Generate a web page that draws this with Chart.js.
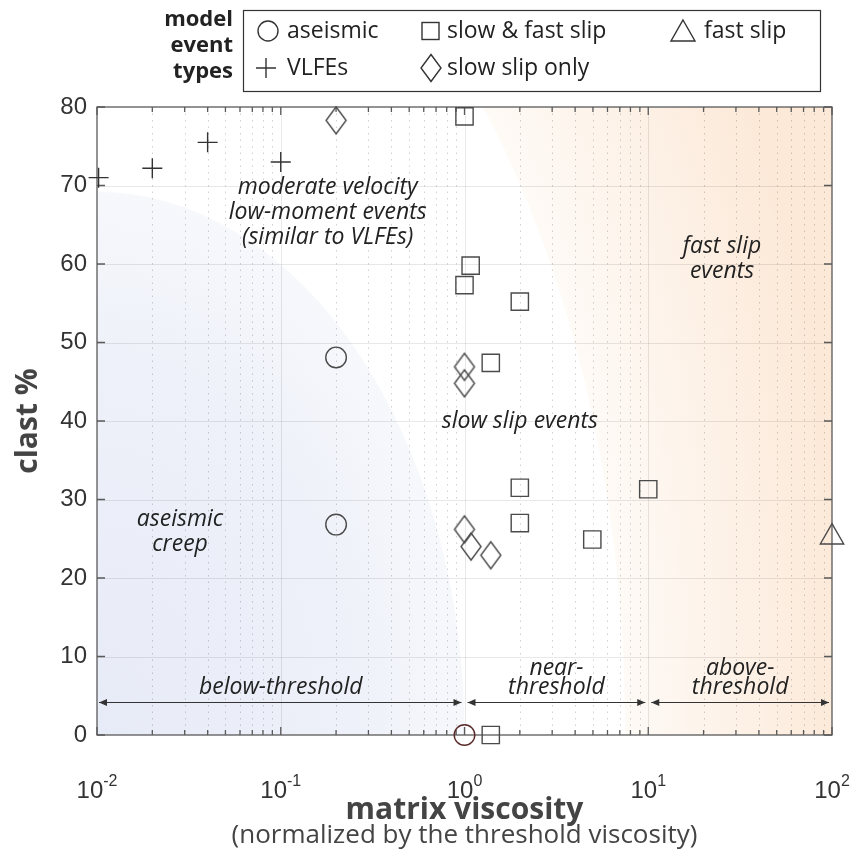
<!DOCTYPE html>
<html>
<head>
<meta charset="utf-8">
<script src="https://cdn.jsdelivr.net/npm/chart.js@4.4.0/dist/chart.umd.min.js"></script>
<style>
  html, body { margin: 0; padding: 0; background: #fff; }
  #wrap { position: relative; width: 862px; height: 850px; }
</style>
</head>
<body>
<div id="wrap"><canvas id="chart"></canvas></div>
<script>
// clast % vs. normalized matrix viscosity, one series per modelled event type
const aseismicX = [0.2, 0.2, 1.0];
const aseismicY = [48.1, 26.8, 0];

const slowFastX = [1.0, 1.08, 1.0, 2.0, 1.39, 2.0, 10, 2.0, 4.96, 1.39];
const slowFastY = [78.8, 59.8, 57.3, 55.2, 47.4, 31.5, 31.3, 27.0, 24.9, 0];

const fastSlipX = [100];
const fastSlipY = [25.2];

const vlfeX = [0.0102, 0.02, 0.04, 0.1];
const vlfeY = [71.0, 72.2, 75.5, 73.0];

const slowOnlyX = [0.2, 1.0, 1.0, 1.0, 1.085, 1.39];
const slowOnlyY = [78.3, 46.9, 44.8, 26.2, 24.0, 22.9];

const yTicks = [0, 10, 20, 30, 40, 50, 60, 70, 80];
const xDecades = [0.01, 0.1, 1, 10, 100];
const xExponents = ['-2', '-1', '0', '1', '2'];

// regime bands along the bottom
const bandEdges = [0.01, 1, 10, 100];
const bandLabels = [['below-threshold'], ['near-', 'threshold'], ['above-', 'threshold']];

// italic field labels: [x, y, lines]
const fieldLabels = [
  [0.18, 66.6, ['moderate velocity', 'low-moment events', '(similar to VLFEs)']],
  [25.2, 60.6, ['fast slip', 'events']],
  [2.0, 40.0, ['slow slip events']],
  [0.0283, 25.9, ['aseismic', 'creep']]
];

const INK = '#4a4a4a';
const SANS = '"Open Sans", "Noto Sans", sans-serif';
const TICKFONT = '"Liberation Sans", Arial, sans-serif';

const pts = (xs, ys) => xs.map((x, i) => ({ x, y: ys[i] }));

// MATLAB-like diamond is taller than wide
function diamondPath(ctx, cx, cy, w, h) {
  ctx.beginPath();
  ctx.moveTo(cx, cy - h / 2);
  ctx.lineTo(cx + w / 2, cy);
  ctx.lineTo(cx, cy + h / 2);
  ctx.lineTo(cx - w / 2, cy);
  ctx.closePath();
}
function makeDiamond(w, h, color) {
  const c = document.createElement('canvas');
  c.width = w + 4; c.height = h + 4;
  const g = c.getContext('2d');
  g.strokeStyle = color; g.lineWidth = 1.4;
  diamondPath(g, c.width / 2, c.height / 2, w, h);
  g.stroke();
  return c;
}
const diamondImg = makeDiamond(20, 27, INK);

const base = { showLine: false, clip: false, backgroundColor: 'rgba(0,0,0,0)', borderWidth: 1.4 };

const datasets = [
  { ...base, label: 'aseismic', data: pts(aseismicX, aseismicY), pointStyle: 'circle', pointRadius: 10.3,
    borderColor: [INK, INK, '#5a2a2a'] },
  { ...base, label: 'slow & fast slip', data: pts(slowFastX, slowFastY), pointStyle: 'rect', pointRadius: 12.2, borderColor: INK },
  { ...base, label: 'fast slip', data: pts(fastSlipX, fastSlipY), pointStyle: 'triangle', pointRadius: 13.5, borderColor: INK },
  { ...base, label: 'VLFEs', data: pts(vlfeX, vlfeY), pointStyle: 'cross', pointRadius: 10, borderColor: '#333' },
  { ...base, label: 'slow slip only', data: pts(slowOnlyX, slowOnlyY), pointStyle: diamondImg, pointRadius: 12, borderColor: INK }
];

// shaded fields, grid, box and inward ticks
const backdrop = {
  id: 'backdrop',
  beforeDatasetsDraw(chart) {
    const { ctx, chartArea: a, scales: { x, y } } = chart;
    ctx.save();
    ctx.beginPath(); ctx.rect(a.left, a.top, a.width, a.height); ctx.clip();

    // aseismic creep field (lower left)
    const bRx = x.getPixelForValue(1) - a.left;
    const bRy = a.bottom - y.getPixelForValue(69.2);
    ctx.save();
    ctx.translate(a.left, a.bottom); ctx.scale(bRx, bRy);
    let g = ctx.createRadialGradient(0, 0, 0, 0, 0, 1);
    g.addColorStop(0, '#e7ebf7');
    g.addColorStop(0.7, '#eef1f9');
    g.addColorStop(1, '#f7f8fc');
    ctx.fillStyle = g;
    ctx.beginPath(); ctx.moveTo(0, 0); ctx.arc(0, 0, 1, -Math.PI / 2, 0); ctx.closePath(); ctx.fill();
    ctx.restore();

    // fast slip field (outside a larger ellipse)
    const oRx = x.getPixelForValue(7.5) - a.left;
    const dxTop = x.getPixelForValue(1.26) - a.left;
    const oRy = a.height / Math.sqrt(1 - Math.pow(dxTop / oRx, 2));
    ctx.save();
    ctx.translate(a.left, a.bottom); ctx.scale(oRx, oRy);
    g = ctx.createRadialGradient(0, 0, 1, 0, 0, 1.42);
    g.addColorStop(0, '#fefaf6');
    g.addColorStop(1, '#fce9d8');
    ctx.fillStyle = g;
    ctx.beginPath();
    ctx.rect(0, -2, 3, 2);
    ctx.moveTo(1, 0); ctx.arc(0, 0, 1, 0, Math.PI * 2);
    ctx.fill('evenodd');
    ctx.restore();

    // minor x grid, dotted
    ctx.lineWidth = 1;
    ctx.strokeStyle = 'rgba(0,0,0,0.18)';
    ctx.setLineDash([1.5, 5]);
    xDecades.slice(0, -1).forEach(d => {
      for (let k = 2; k <= 9; k++) {
        const px = Math.round(x.getPixelForValue(d * k)) + 0.5;
        ctx.beginPath(); ctx.moveTo(px, a.top); ctx.lineTo(px, a.bottom); ctx.stroke();
      }
    });
    // major grid, solid
    ctx.setLineDash([]);
    ctx.strokeStyle = 'rgba(0,0,0,0.09)';
    xDecades.slice(1, -1).forEach(v => {
      const px = Math.round(x.getPixelForValue(v)) + 0.5;
      ctx.beginPath(); ctx.moveTo(px, a.top); ctx.lineTo(px, a.bottom); ctx.stroke();
    });
    yTicks.slice(1, -1).forEach(v => {
      const py = Math.round(y.getPixelForValue(v)) + 0.5;
      ctx.beginPath(); ctx.moveTo(a.left, py); ctx.lineTo(a.right, py); ctx.stroke();
    });
    ctx.restore();

    // axes box and inward ticks
    ctx.save();
    ctx.strokeStyle = '#5a5a5a';
    ctx.lineWidth = 1.3;
    ctx.strokeRect(a.left, a.top, a.width, a.height);
    ctx.beginPath();
    yTicks.forEach(v => {
      const py = y.getPixelForValue(v);
      ctx.moveTo(a.left, py); ctx.lineTo(a.left + 8, py);
      ctx.moveTo(a.right, py); ctx.lineTo(a.right - 8, py);
    });
    xDecades.forEach((d, i) => {
      const px = x.getPixelForValue(d);
      ctx.moveTo(px, a.bottom); ctx.lineTo(px, a.bottom - 8);
      ctx.moveTo(px, a.top); ctx.lineTo(px, a.top + 8);
      if (i === xDecades.length - 1) return;
      for (let k = 2; k <= 9; k++) {
        const mx = x.getPixelForValue(d * k);
        ctx.moveTo(mx, a.bottom); ctx.lineTo(mx, a.bottom - 5);
        ctx.moveTo(mx, a.top); ctx.lineTo(mx, a.top + 5);
      }
    });
    ctx.stroke();
    ctx.restore();
  }
};

// band arrows, field labels, axis labels and the legend
const overlay = {
  id: 'overlay',
  afterDraw(chart) {
    const { ctx, chartArea: a, scales: { x, y } } = chart;
    ctx.save();

    // regime arrows
    const ay = Math.round(y.getPixelForValue(4.2)) + 0.5;
    ctx.strokeStyle = '#333'; ctx.fillStyle = '#333'; ctx.lineWidth = 1;
    const head = (px, dir) => {
      ctx.beginPath();
      ctx.moveTo(px, ay); ctx.lineTo(px - dir * 8, ay - 3.5); ctx.lineTo(px - dir * 8, ay + 3.5);
      ctx.closePath(); ctx.fill();
    };
    for (let i = 0; i < bandEdges.length - 1; i++) {
      const x0 = x.getPixelForValue(bandEdges[i]) + (i ? 3 : 2);
      const x1 = x.getPixelForValue(bandEdges[i + 1]) - 3;
      ctx.beginPath(); ctx.moveTo(x0, ay); ctx.lineTo(x1, ay); ctx.stroke();
      head(x0, -1); head(x1, 1);
      const mid = x.getPixelForValue(Math.sqrt(bandEdges[i] * bandEdges[i + 1]));
      const lines = bandLabels[i];
      ctx.font = 'italic 23px ' + SANS;
      ctx.fillStyle = '#222'; ctx.textAlign = 'center'; ctx.textBaseline = 'middle';
      lines.forEach((t, j) => ctx.fillText(t, mid, ay - 15 - (lines.length - 1 - j) * 19));
      ctx.fillStyle = '#333';
    }

    // field labels
    ctx.font = 'italic 23px ' + SANS;
    ctx.fillStyle = '#222'; ctx.textAlign = 'center'; ctx.textBaseline = 'middle';
    fieldLabels.forEach(([vx, vy, lines]) => {
      const cx = x.getPixelForValue(vx), cy = y.getPixelForValue(vy);
      lines.forEach((t, j) => ctx.fillText(t, cx, cy + (j - (lines.length - 1) / 2) * 25));
    });

    // x tick labels as 10^n
    ctx.fillStyle = '#333'; ctx.textBaseline = 'alphabetic';
    xDecades.forEach((d, i) => {
      const px = x.getPixelForValue(d);
      ctx.font = '24px ' + TICKFONT;
      const wBase = ctx.measureText('10').width;
      ctx.font = '16px ' + TICKFONT;
      const wExp = ctx.measureText(xExponents[i]).width;
      const left = px - (wBase + wExp) / 2;
      ctx.textAlign = 'left';
      ctx.font = '24px ' + TICKFONT;
      ctx.fillText('10', left, a.bottom + 63);
      ctx.font = '16px ' + TICKFONT;
      ctx.fillText(xExponents[i], left + wBase, a.bottom + 51);
    });

    // axis titles
    ctx.fillStyle = '#444'; ctx.textAlign = 'center';
    ctx.font = 'bold 30px ' + SANS;
    ctx.fillText('matrix viscosity', (a.left + a.right) / 2, a.bottom + 84);
    ctx.font = '26px ' + SANS;
    ctx.fillText('(normalized by the threshold viscosity)', (a.left + a.right) / 2, a.bottom + 108);
    ctx.save();
    ctx.translate(28, (a.top + a.bottom) / 2);
    ctx.rotate(-Math.PI / 2);
    ctx.textBaseline = 'middle';
    ctx.font = 'bold 30px ' + SANS;
    ctx.fillText('clast %', 0, 0);
    ctx.restore();

    // legend
    ctx.fillStyle = '#fff';
    ctx.fillRect(243, 10, 577, 81);
    ctx.strokeStyle = '#333'; ctx.lineWidth = 1.2;
    ctx.strokeRect(243.5, 10.5, 577, 81);
    ctx.fillStyle = '#222'; ctx.textAlign = 'right'; ctx.textBaseline = 'middle';
    ctx.font = 'bold 22px ' + SANS;
    ['model', 'event', 'types'].forEach((t, j) => ctx.fillText(t, 233, 20 + j * 26));

    ctx.strokeStyle = '#333'; ctx.lineWidth = 1.4;
    const r1 = 31, r2 = 68;
    ctx.beginPath(); ctx.arc(268, r1, 10, 0, Math.PI * 2); ctx.stroke();
    ctx.strokeRect(422, r1 - 8.5, 17, 17);
    ctx.beginPath(); ctx.moveTo(683, r1 - 11); ctx.lineTo(695, r1 + 10); ctx.lineTo(671, r1 + 10); ctx.closePath(); ctx.stroke();
    ctx.beginPath(); ctx.moveTo(256, r2); ctx.lineTo(276, r2); ctx.moveTo(266, r2 - 10); ctx.lineTo(266, r2 + 10); ctx.stroke();
    diamondPath(ctx, 431, r2, 20, 27); ctx.stroke();

    ctx.textAlign = 'left'; ctx.fillStyle = '#222';
    ctx.font = '23px ' + SANS;
    ctx.fillText('aseismic', 287, r1);
    ctx.fillText('slow & fast slip', 447, r1);
    ctx.fillText('fast slip', 704, r1);
    ctx.fillText('VLFEs', 287, r2);
    ctx.fillText('slow slip only', 447, r2);
    ctx.restore();
  }
};

new Chart(document.getElementById('chart'), {
  type: 'scatter',
  data: { datasets },
  options: {
    responsive: true,
    maintainAspectRatio: false,
    animation: false,
    events: [],
    layout: { padding: { top: 107, right: 30, left: 0, bottom: 0 } },
    plugins: { legend: { display: false }, tooltip: { enabled: false } },
    scales: {
      x: {
        type: 'logarithmic', min: 0.01, max: 100,
        grid: { display: false, drawTicks: false },
        border: { display: false },
        ticks: { display: false },
        afterFit(s) { s.height = 115; }
      },
      y: {
        min: 0, max: 80,
        grid: { display: false, drawTicks: false },
        border: { display: false },
        afterBuildTicks(s) { s.ticks = yTicks.map(v => ({ value: v })); },
        ticks: { padding: 10, color: '#333', font: { family: TICKFONT, size: 24 } },
        afterFit(s) { s.width = 97; }
      }
    }
  },
  plugins: [backdrop, overlay]
});
</script>
</body>
</html>
